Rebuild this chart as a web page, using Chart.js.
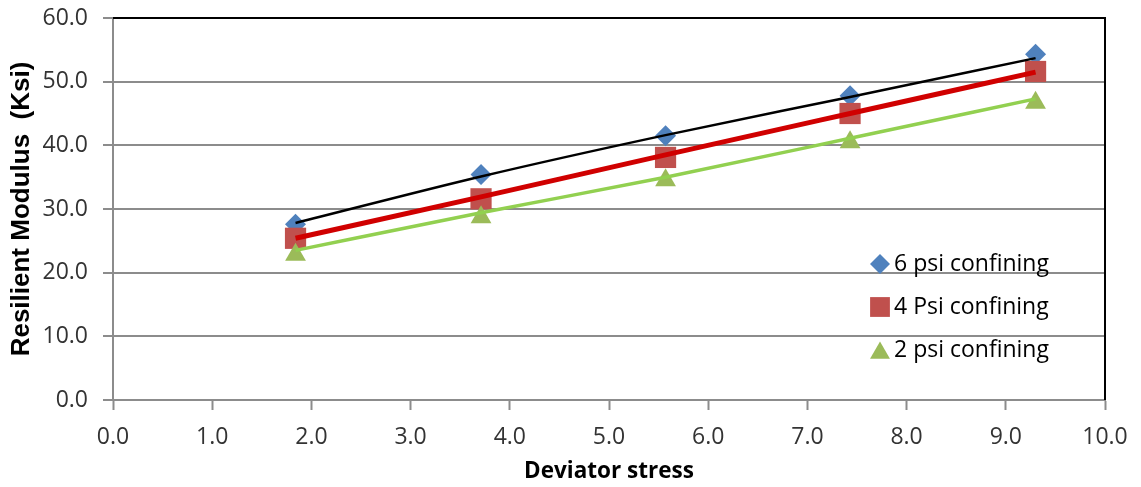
<!DOCTYPE html>
<html>
<head>
<meta charset="utf-8">
<script src="https://cdn.jsdelivr.net/npm/chart.js@4/dist/chart.umd.min.js"></script>
<style>
html,body{margin:0;padding:0;background:#fff;}
#wrap{width:1141px;height:487px;position:relative;}
</style>
</head>
<body>
<div id="wrap"><canvas id="c" width="1141" height="487"></canvas></div>
<script>
// ---- data ----
const deviatorStress = [1.84, 3.71, 5.57, 7.43, 9.30];
const psi6 = [27.6, 35.4, 41.5, 47.8, 54.3];
const psi4 = [25.4, 31.6, 38.1, 45.0, 51.6];
const psi2 = [22.8, 28.7, 34.5, 40.5, 46.7];
const trend6 = [27.8, 35.1, 41.6, 47.6, 53.7];
const trend4 = [25.4, 31.9, 38.5, 45.0, 51.5];
const trend2 = [23.5, 29.4, 35.0, 41.1, 47.3];
const seriesLabels = ['6 psi confining', '4 Psi confining', '2 psi confining'];
const xTickValues = [0,1,2,3,4,5,6,7,8,9,10];
const yTickValues = [0,10,20,30,40,50,60];
const xTitle = 'Deviator stress';
const yTitle = 'Resilient Modulus  (Ksi)';

const pts = (xs, ys) => xs.map((x, i) => ({x: x, y: ys[i]}));

const TICK_FONT = "'Open Sans', sans-serif";
const GRID = '#8c8c8c';

const frame = {
  id: 'frame',
  beforeDatasetsDraw(chart) {
    const {ctx, chartArea: a} = chart;
    ctx.save();
    ctx.strokeStyle = '#000';
    ctx.lineWidth = 2;
    ctx.beginPath();
    ctx.moveTo(a.left, a.top);
    ctx.lineTo(a.right, a.top);
    ctx.lineTo(a.right, a.bottom);
    ctx.stroke();
    ctx.restore();
  }
};

const legendInside = {
  id: 'legendInside',
  afterDraw(chart) {
    const {ctx} = chart;
    const x0 = 880, y0 = 264, dy = 43;
    ctx.save();
    ctx.font = "23px " + TICK_FONT;
    ctx.textBaseline = 'middle';
    [0,1,2].forEach(i => {
      const ds = chart.data.datasets[i];
      const y = y0 + i * dy;
      ctx.fillStyle = ds.backgroundColor;
      ctx.strokeStyle = ds.borderColor;
      ctx.lineWidth = 1;
      const st = ds.pointStyle;
      const r = st === 'rect' ? 14 : (st === 'triangle' ? 11.5 : 10);
      Chart.helpers.drawPoint(ctx, {pointStyle: st, radius: r, borderWidth: 0, rotation: 0}, x0, st === 'triangle' ? y + 3 : y);
      ctx.fillStyle = '#000';
      ctx.fillText(ds.label, 894, y);
    });
    ctx.restore();
  }
};

new Chart(document.getElementById('c'), {
  type: 'scatter',
  data: {
    datasets: [
      {label: seriesLabels[0], data: pts(deviatorStress, psi6), pointStyle: 'rectRot', pointRadius: 10.5, pointHoverRadius: 10.5,
       backgroundColor: '#4F81BD', borderColor: '#4F81BD', borderWidth: 0, order: 6},
      {label: seriesLabels[1], data: pts(deviatorStress, psi4), pointStyle: 'rect', pointRadius: 15, pointHoverRadius: 15,
       backgroundColor: '#C0504D', borderColor: '#C0504D', borderWidth: 0, order: 5},
      {label: seriesLabels[2], data: pts(deviatorStress, psi2), pointStyle: 'triangle', pointRadius: 12, pointHoverRadius: 12,
       backgroundColor: '#9BBB59', borderColor: '#9BBB59', borderWidth: 0, order: 4},
      {label: 'trend 6', data: pts(deviatorStress, trend6), showLine: true, pointRadius: 0, borderColor: '#000000', borderWidth: 2.5,
       cubicInterpolationMode: 'monotone', order: 3},
      {label: 'trend 4', data: pts(deviatorStress, trend4), showLine: true, pointRadius: 0, borderColor: '#D00000', borderWidth: 5,
       cubicInterpolationMode: 'monotone', order: 2},
      {label: 'trend 2', data: pts(deviatorStress, trend2), showLine: true, pointRadius: 0, borderColor: '#92D050', borderWidth: 3.5,
       cubicInterpolationMode: 'monotone', order: 1}
    ]
  },
  options: {
    responsive: false,
    animation: false,
    devicePixelRatio: 1,
    layout: {padding: {top: 18, right: 36, left: 0, bottom: 0}},
    plugins: {legend: {display: false}, tooltip: {enabled: false}},
    scales: {
      x: {
        type: 'linear', min: 0, max: 10,
        afterBuildTicks(s) { s.ticks = xTickValues.map(v => ({value: v})); },
        afterFit(s) { s.height = 87; s.paddingLeft = 0; s.paddingRight = 0; },
        ticks: {callback: v => Number(v).toFixed(1), color: '#333', font: {family: TICK_FONT, size: 23}, padding: 14, maxRotation: 0, autoSkip: false},
        grid: {drawOnChartArea: false, drawTicks: true, tickLength: 10, tickWidth: 2, tickColor: GRID},
        border: {color: GRID, width: 2},
        title: {display: true, text: xTitle, color: '#000', font: {family: "'Open Sans', sans-serif", size: 22.5, weight: 'bold'}, padding: {top: 0, bottom: 2}}
      },
      y: {
        type: 'linear', min: 0, max: 60,
        afterBuildTicks(s) { s.ticks = yTickValues.map(v => ({value: v})); },
        afterFit(s) { s.width = 113; s.paddingTop = 0; s.paddingBottom = 0; },
        ticks: {callback: v => Number(v).toFixed(1), color: '#333', font: {family: TICK_FONT, size: 23}, padding: 15},
        grid: {color: GRID, lineWidth: 2, drawTicks: true, tickLength: 10, tickWidth: 2, tickColor: GRID},
        border: {color: GRID, width: 2},
        title: {display: true, text: yTitle, color: '#000', font: {family: "'Liberation Sans', Arial, sans-serif", size: 26, weight: 'bold'}, padding: {top: 6, bottom: 0}}
      }
    }
  },
  plugins: [frame, legendInside]
});
</script>
</body>
</html>
